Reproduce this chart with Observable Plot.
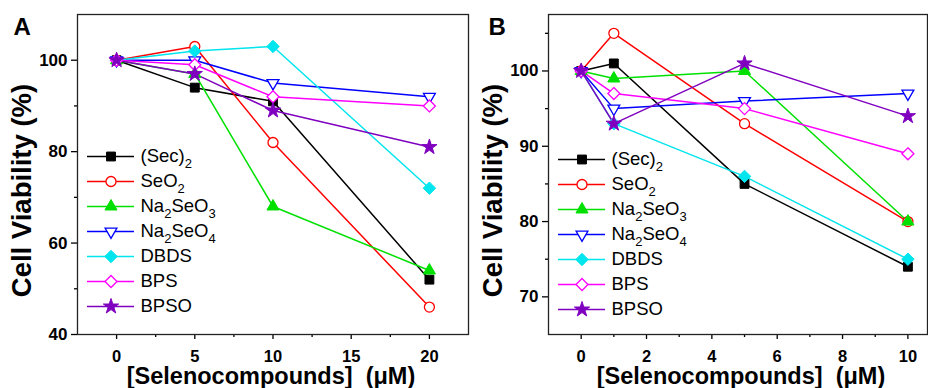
<!DOCTYPE html>
<html>
<head>
<meta charset="utf-8">
<script src="https://cdn.jsdelivr.net/npm/d3@7"></script>
<script src="https://cdn.jsdelivr.net/npm/@observablehq/plot@0.6"></script>
<style>
  body { margin: 0; background: #fff; }
  #root { position: relative; width: 928px; height: 388px; overflow: hidden; font-family: "Liberation Sans", Arial, sans-serif; }
  #root > div { position: absolute; line-height: 0; }
</style>
</head>
<body>
<div id="root"></div>
<script>
// ---- Data ----
const names = ["(Sec)2", "SeO2", "Na2SeO3", "Na2SeO4", "DBDS", "BPS", "BPSO"];
const colors = ["#000000", "#ff0000", "#00e000", "#0000ff", "#00e5ee", "#ff00ff", "#8000c0"];
const symbols = ["square", "circle", "triangle", "triangle", "diamond2", "diamond2", "star"];
const openMarker = [false, true, false, true, false, true, false];
const rotations = [0, 0, 0, 180, 0, 0, 0];
const markerR = [5, 5, 4.5, 4.4, 5.6, 5.4, 4.8];

// Panel A
const concA = [0, 5, 10, 20];
const secA     = [100, 94, 91, 52];
const seo2A    = [100, 103, 82, 46];
const na2seo3A = [100, 97, 68, 54];
const na2seo4A = [100, 100, 95, 92];
const dbdsA    = [100, 102, 103, 72];
const bpsA     = [100, 99, 92, 90];
const bpsoA    = [100, 97, 89, 81];

// Panel B
const concB = [0, 1, 5, 10];
const secB     = [100, 101, 85, 74];
const seo2B    = [100, 105, 93, 80];
const na2seo3B = [100, 99, 100, 80];
const na2seo4B = [100, 95, 96, 97];
const dbdsB    = [100, 93, 86, 75];
const bpsB     = [100, 97, 95, 89];
const bpsoB    = [100, 93, 101, 94];

// Axis ticks
const xTicksA = [0, 5, 10, 15, 20];
const xMinorA = [2.5, 7.5, 12.5, 17.5];
const yTicksA = [40, 60, 80, 100];
const yMinorA = [50, 70, 90];
const xTicksB = [0, 2, 4, 6, 8, 10];
const xMinorB = [1, 3, 5, 7, 9];
const yTicksB = [70, 80, 90, 100];
const yMinorB = [75, 85, 95, 105];

const xLabel = "[Selenocompounds]\u00a0\u00a0(\u03bcM)";
const yLabel = "Cell Viability (%)";

function tidy(xs, seriesList) {
  const rows = [];
  seriesList.forEach((vals, i) => vals.forEach((v, j) => rows.push({s: names[i], x: xs[j], y: v})));
  return rows;
}

function seriesMarks(rows) {
  const marks = [];
  names.forEach((n, i) => {
    marks.push(Plot.line(rows, {filter: d => d.s === n, x: "x", y: "y", stroke: colors[i], strokeWidth: 1.5}));
  });
  names.forEach((n, i) => {
    marks.push(Plot.dot(rows, {
      filter: d => d.s === n, x: "x", y: "y",
      symbol: symbols[i], r: markerR[i], rotate: rotations[i],
      fill: openMarker[i] ? "white" : colors[i],
      stroke: colors[i], strokeWidth: openMarker[i] ? 1.3 : 1
    }));
  });
  return marks;
}

function panel(cfg) {
  const rows = tidy(cfg.xs, cfg.series);
  return Plot.plot({
    width: cfg.width, height: 388,
    marginLeft: cfg.marginLeft, marginRight: cfg.marginRight, marginTop: 14, marginBottom: 54,
    x: {domain: cfg.xDomain},
    y: {domain: cfg.yDomain},
    style: {fontFamily: "Liberation Sans, Arial, sans-serif", color: "black", background: "white", overflow: "visible"},
    marks: [
      Plot.axisX({ticks: cfg.xTicks, tickSize: 5, tickPadding: 11, fontSize: 16.5, fontWeight: "bold", label: null, strokeWidth: 1.3}),
      Plot.axisX({ticks: cfg.xMinor, tickSize: 3, tickFormat: () => "", label: null, strokeWidth: 1.3}),
      Plot.axisY({ticks: cfg.yTicks, tickSize: 6, tickPadding: 4, fontSize: 17, fontWeight: "bold", label: null, strokeWidth: 1.3}),
      Plot.axisY({ticks: cfg.yMinor, tickSize: 3, tickFormat: () => "", label: null, strokeWidth: 1.3}),
      ...seriesMarks(rows),
      Plot.frame({stroke: "#222", strokeWidth: 1.3}),
      Plot.text([cfg.letter], {frameAnchor: "top-left", dx: cfg.letterDx, dy: 12.5, textAnchor: "start", lineAnchor: "middle", fontSize: 24, fontWeight: "bold", fill: "black"}),
      Plot.text([yLabel], {frameAnchor: "left", dx: -55, dy: 16, rotate: -90, textAnchor: "middle", lineAnchor: "middle", fontSize: 27.5, fontWeight: "bold", fill: "black"}),
      Plot.text([xLabel], {frameAnchor: "bottom", dx: cfg.xLabelDx, dy: 41.5, textAnchor: "middle", lineAnchor: "middle", fontSize: 23.5, fontWeight: "bold", fill: "black"})
    ]
  });
}

function legend(spacing) {
  const rows = names.map((n, i) => ({s: n, i}));
  const marks = [];
  names.forEach((n, i) => {
    marks.push(Plot.ruleY(rows, {filter: d => d.s === n, y: "s", x1: 0, x2: 1, stroke: colors[i], strokeWidth: 1.5}));
  });
  names.forEach((n, i) => {
    marks.push(Plot.dot(rows, {
      filter: d => d.s === n, y: "s", x: 0.5,
      symbol: symbols[i], r: markerR[i], rotate: rotations[i],
      fill: openMarker[i] ? "white" : colors[i],
      stroke: colors[i], strokeWidth: openMarker[i] ? 1.3 : 1
    }));
  });
  marks.push(Plot.text(rows, {y: "s", x: 1, text: "s", dx: 6, textAnchor: "start", lineAnchor: "middle", fontSize: 18.5, fill: "black"}));
  const p = Plot.plot({
    width: 150, height: 190,
    margin: 0,
    x: {domain: [0, 1], range: [0, 47], axis: null},
    y: {type: "point", domain: names, range: [13, 13 + 6 * spacing], padding: 0, axis: null},
    style: {fontFamily: "Liberation Sans, Arial, sans-serif", background: "transparent", overflow: "visible"},
    marks
  });
  // subscripts
  d3.select(p).selectAll("g[aria-label='text'] text").each(function () {
    const t = this.textContent;
    const el = d3.select(this);
    el.text(null);
    const parts = t.split(/(\d)/).filter(s => s !== "");
    let shiftBack = false;
    parts.forEach(part => {
      if (/^\d$/.test(part)) {
        el.append("tspan").attr("font-size", 13).attr("dy", 6).text(part);
        shiftBack = true;
      } else {
        const ts = el.append("tspan").text(part);
        if (shiftBack) { ts.attr("dy", -6); shiftBack = false; }
      }
    });
  });
  return p;
}

const root = document.getElementById("root");

function place(node, left, top) {
  const wrap = document.createElement("div");
  wrap.style.left = left + "px";
  wrap.style.top = top + "px";
  wrap.appendChild(node);
  root.appendChild(wrap);
}

place(panel({
  xs: concA, series: [secA, seo2A, na2seo3A, na2seo4A, dbdsA, bpsA, bpsoA],
  width: 470, marginLeft: 77, marginRight: 2,
  xDomain: [-2.5, 22.5], yDomain: [40, 110],
  xTicks: xTicksA, xMinor: xMinorA, yTicks: yTicksA, yMinor: yMinorA,
  letter: "A", letterDx: -64, xLabelDx: -2
}), 0, 0);

place(panel({
  xs: concB, series: [secB, seo2B, na2seo3B, na2seo4B, dbdsB, bpsB, bpsoB],
  width: 458, marginLeft: 78, marginRight: 1,
  xDomain: [-1, 10.6], yDomain: [65, 107.5],
  xTicks: xTicksB, xMinor: xMinorB, yTicks: yTicksB, yMinor: yMinorB,
  letter: "B", letterDx: -60, xLabelDx: 3
}), 470, 0);

place(legend(25.7), 87, 141);
place(legend(25.9), 558, 143);
</script>
</body>
</html>
